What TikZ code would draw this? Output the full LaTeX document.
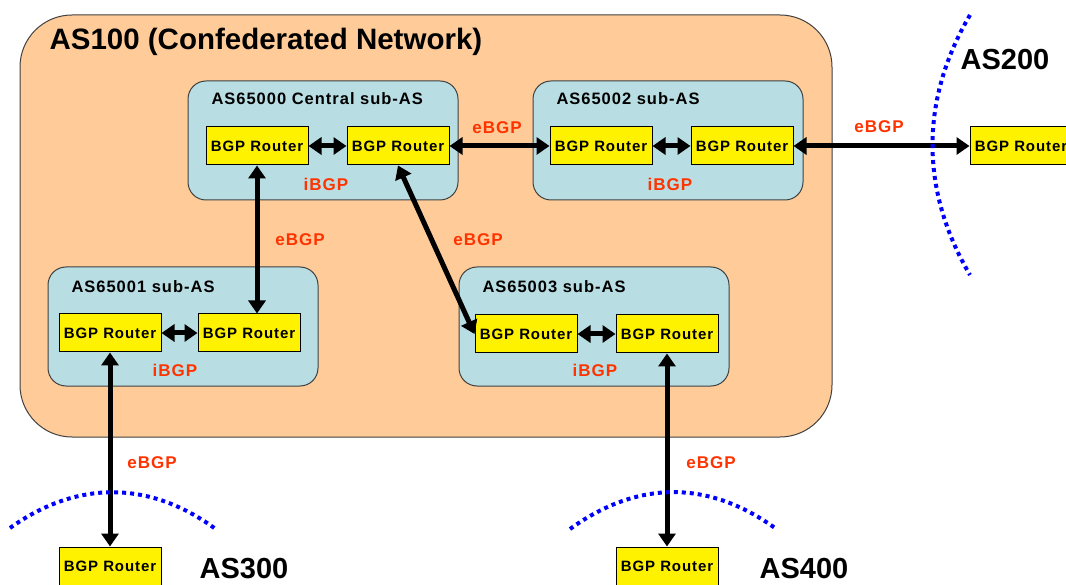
\documentclass[tikz,border=0pt]{standalone}
\usepackage{fontspec}
\setmainfont{Liberation Sans}
\newfontfamily\spaced[LetterSpace=6]{Liberation Sans}
\usepackage{xcolor}
\usetikzlibrary{arrows.meta}

\definecolor{peach}{RGB}{255,204,153}
\definecolor{subblue}{RGB}{184,222,228}
\definecolor{bgpred}{RGB}{255,51,0}

\tikzset{
  router/.style={draw, fill=yellow, line width=1pt, minimum width=102pt,
    minimum height=38pt, inner sep=0pt,
    font={\spaced\fontsize{15}{16}\selectfont\bfseries}},
  subas/.style={draw=black!75, fill=subblue, line width=1pt, rounded corners=18pt},
  subtitle/.style={anchor=west, font={\spaced\fontsize{16.5}{18}\selectfont\bfseries}},
  proto/.style={text=bgpred, font={\spaced\fontsize{17}{18}\selectfont\bfseries}},
  asname/.style={font={\fontsize{29}{30}\selectfont\bfseries}},
  link/.style={line width=5pt, <->},
  border/.style={blue, line width=4pt, dash pattern=on 4pt off 4pt}
}

\begin{document}
\begin{tikzpicture}[x=1pt, y=-1pt, >={Triangle[length=13pt,width=17pt]}]
\useasboundingbox (0,0) rectangle (1066,585);

% confederation
\draw[draw=black!75, fill=peach, line width=1pt, rounded corners=52pt] (20,15) rectangle (832,437);
\node[asname, anchor=west, font={\fontsize{29.5}{30}\selectfont\bfseries}] (as100) at (46,42) {AS100 (Confederated Network)};

\foreach \x/\y in {188/81, 533/81, 48/267, 459/267}{
    \draw[subas] (\x,\y) rectangle ++(270,119);
}
\node[subtitle] (s0) at (208,99) {AS65000 Central sub-AS};
\node[subtitle] (s2) at (553,99) {AS65002 sub-AS};
\node[subtitle] (s1) at (68,287) {AS65001 sub-AS};
\node[subtitle] (s3) at (479,287) {AS65003 sub-AS};

% routers
\node[router] (a1) at (257,146) {BGP Router};
\node[router] (a2) at (398,146) {BGP Router};
\node[router] (b1) at (601,146) {BGP Router};
\node[router] (b2) at (742,146) {BGP Router};
\node[router] (c1) at (110,333) {BGP Router};
\node[router] (c2) at (249,333) {BGP Router};
\node[router] (d1) at (526,334) {BGP Router};
\node[router] (d2) at (667,334) {BGP Router};
\node[router] (r200) at (1021,146) {BGP Router};
\node[router] (r300) at (110,566) {BGP Router};
\node[router] (r400) at (667,566) {BGP Router};

% sessions
\foreach \u/\v in {a1/a2, b1/b2, c1/c2, d1/d2, a2/b1, b2/r200}{
    \draw[link] (\u.east) -- (\v.west);
}
\draw[link] (a1.south) -- (a1.south |- c2.north);
\draw[link] (a2.south) -- (d1.west);
\draw[link] (c1.south) -- (r300.north);
\draw[link] (d2.south) -- (r400.north);

\node[proto] (e1) at (497,128) {eBGP};
\node[proto] (e2) at (879,127) {eBGP};
\node[proto] (e3) at (300,240) {eBGP};
\node[proto] (e4) at (478,240) {eBGP};
\node[proto] (e5) at (152,463) {eBGP};
\node[proto] (e6) at (711,463) {eBGP};
\node[proto] (i0) at (326,184) {iBGP};
\node[proto] (i2) at (670,184) {iBGP};
\node[proto] (i1) at (175,370) {iBGP};
\node[proto] (i3) at (595,370) {iBGP};

% neighbour AS edges
\draw[border] (970,15) .. controls (920,100) and (920,190) .. (970,275);
\draw[border] (10,528) .. controls (77,480) and (150,480) .. (217,530);
\draw[border] (570,529) .. controls (638,480) and (708,480) .. (775,528);
\node[asname] (as200) at (1005,60) {AS200};
\node[asname] (as300) at (244,569) {AS300};
\node[asname] (as400) at (804,569) {AS400};
\end{tikzpicture}
\end{document}
